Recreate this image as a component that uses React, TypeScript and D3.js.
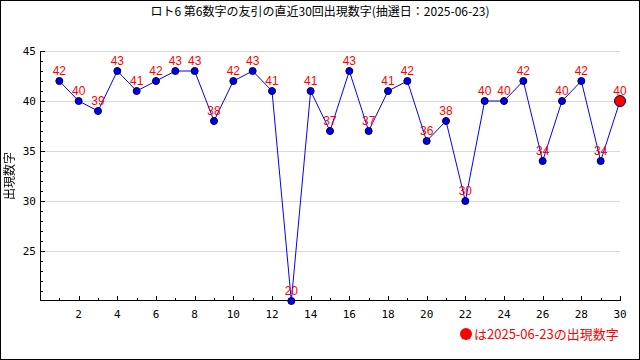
import React from "react";
import * as d3 from "d3";

const draws: number[] = Array.from({ length: 30 }, (_, i) => i + 1);
const values: number[] = [42, 40, 39, 43, 41, 42, 43, 43, 38, 42, 43, 41, 20, 41, 37, 43, 37, 41, 42, 36, 38, 30, 40, 40, 42, 34, 40, 42, 34, 40];
const yMajorTicks: number[] = [25, 30, 35, 40, 45];
const xLabelTicks: number[] = [2, 4, 6, 8, 10, 12, 14, 16, 18, 20, 22, 24, 26, 28, 30];
const titleText = "ロト6 第6数字の友引の直近30回出現数字(抽選日：2025-06-23)";
const yLabelText = "出現数字";
const legendText = "は2025-06-23の出現数字";

const W = 640, H = 360;
const L = 40, R = 620, T = 51, B = 301;

export default function App() {
  const x = d3.scaleLinear().domain([0, 30]).range([L, R]);
  const y = d3.scaleLinear().domain([20, 45]).range([B, T]);
  const line = d3.line<number>().x((_, i) => x(draws[i])).y((d) => y(d));
  const yMinor = d3.range(21, 46);
  const xMinor = d3.range(1, 31);
  const mono = "'DejaVu Sans Mono', monospace";
  const cjk = "'Noto Sans CJK JP', sans-serif";
  return (
    <div style={{ position: "fixed", left: 0, top: 0 }}>
      <svg width={W} height={H} style={{ display: "block" }}>
        <rect x={0.5} y={0.5} width={W - 1} height={H - 1} fill="#fff" stroke="#000" />
        <text x={320} y={16} textAnchor="middle" fontFamily={cjk} fontSize={12} fill="#000">{titleText}</text>
        {yMajorTicks.map((t) => (
          <line key={"g" + t} x1={L} x2={R} y1={Math.round(y(t)) + 0.5} y2={Math.round(y(t)) + 0.5} stroke="#d8d8d8" />
        ))}
        {yMinor.map((t) => (
          <line key={"ym" + t} x1={L} x2={L + (t % 5 === 0 ? 5 : 3)} y1={Math.round(y(t)) + 0.5} y2={Math.round(y(t)) + 0.5} stroke="#000" />
        ))}
        {xMinor.map((t) => (
          <line key={"xm" + t} x1={Math.round(x(t)) + 0.5} x2={Math.round(x(t)) + 0.5} y1={B} y2={B - (t % 2 === 0 ? 5 : 3)} stroke="#000" />
        ))}
        <line x1={L + 0.5} x2={L + 0.5} y1={T} y2={B} stroke="#000" />
        <line x1={L} x2={R + 1} y1={B - 0.5} y2={B - 0.5} stroke="#000" />
        {yMajorTicks.map((t) => (
          <text key={"yl" + t} x={L - 4} y={y(t) + 4} textAnchor="end" fontFamily={mono} fontSize={11} fill="#000">{t}</text>
        ))}
        {xLabelTicks.map((t) => (
          <text key={"xl" + t} x={x(t)} y={318} textAnchor="middle" fontFamily={mono} fontSize={11} fill="#000">{t}</text>
        ))}
        <text transform={`translate(14,${176}) rotate(-90)`} textAnchor="middle" fontFamily={cjk} fontSize={12} fill="#000">{yLabelText}</text>
        <path d={line(values) || ""} fill="none" stroke="#0000ff" strokeWidth={1} />
        {values.map((v, i) => {
          const last = i === values.length - 1;
          return (
            <circle key={"p" + i} cx={x(draws[i])} cy={y(v)} r={last ? 5.5 : 3.5} fill={last ? "#ff0000" : "#0000ee"} stroke="#000033" strokeWidth={1} />
          );
        })}
        {values.map((v, i) => (
          <text key={"v" + i} x={x(draws[i])} y={y(v) - 6} textAnchor="middle" fontFamily="'Liberation Sans', Arial, sans-serif" fontSize={12} fill="#ff0000">{v}</text>
        ))}
        <circle cx={466} cy={334} r={6} fill="#ff0000" />
        <text x={474} y={339} fontFamily={cjk} fontSize={13} fill="#ff0000">{legendText}</text>
      </svg>
    </div>
  );
}
